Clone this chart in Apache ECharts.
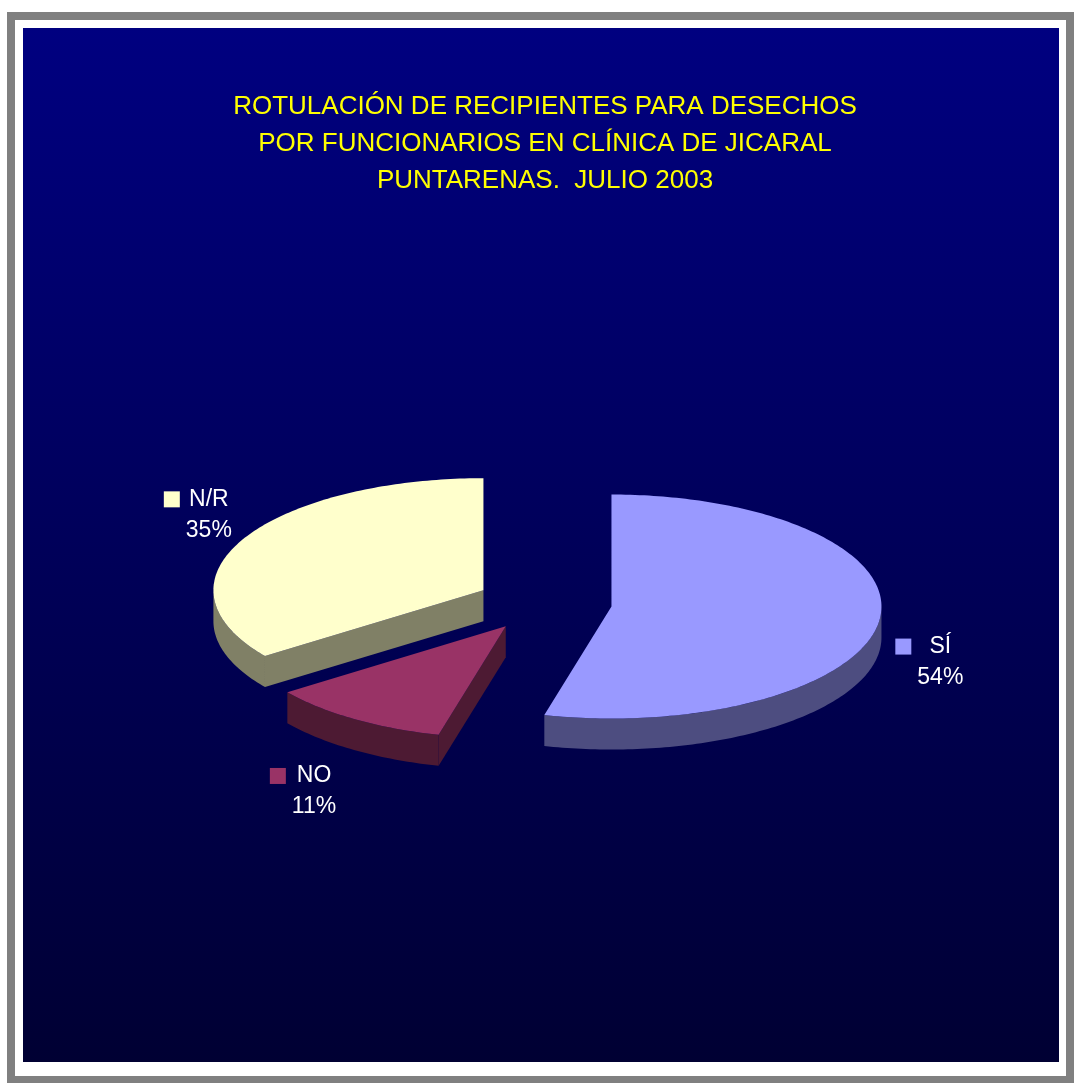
<!DOCTYPE html>
<html>
<head>
<meta charset="utf-8">
<script src="https://cdn.jsdelivr.net/npm/echarts@6/dist/echarts.min.js"></script>
<style>
  html, body { margin: 0; padding: 0; background: #ffffff; }
  #chart { width: 1076px; height: 1083px; }
</style>
</head>
<body>
<div id="chart"></div>
<script>
// Survey answers and their shares (%)
const categories = ['SÍ', 'NO', 'N/R'];
const shares = [54, 11, 35];
const sliceColors = ['#9999FF', '#993366', '#FFFFCC'];
const titleLines = [
  'ROTULACIÓN DE RECIPIENTES PARA DESECHOS',
  'POR FUNCIONARIOS EN CLÍNICA DE JICARAL',
  'PUNTARENAS.  JULIO 2003'
];

// Layout of the tilted, exploded pie
const PIE = { cx: 544, cy: 603, rx: 270, ry: 112, depth: 31, explode: 68 };
const FONT_FAMILY = '"Liberation Sans", Arial, sans-serif';
const TITLE_SIZE = 26;
const LABEL_SIZE = 23;
const LABEL_LINE = 31;
// label placement relative to the rim point at each slice's mid-angle
const labelShift = [[61, 33], [-40, 64], [-34, -33]];

const total = shares.reduce((a, b) => a + b, 0);
const before = shares.map((_, i) => shares.slice(0, i).reduce((a, b) => a + b, 0));

function rim(c, t) {
  return [c[0] + PIE.rx * Math.sin(t), c[1] - PIE.ry * Math.cos(t)];
}
function shade(hex, f) {
  const n = parseInt(hex.slice(1), 16);
  const r = Math.round(((n >> 16) & 255) * f);
  const g = Math.round(((n >> 8) & 255) * f);
  const b = Math.round((n & 255) * f);
  return 'rgb(' + r + ',' + g + ',' + b + ')';
}
function poly(points, fill, z2) {
  return { type: 'polygon', z2: z2, shape: { points: points }, style: { fill: fill, stroke: null } };
}

const measureCtx = document.createElement('canvas').getContext('2d');
measureCtx.font = LABEL_SIZE + 'px ' + FONT_FAMILY;

function renderSlice(params, api) {
  const i = params.dataIndex;
  const v = api.value(0);
  const a0 = before[i] / total * 2 * Math.PI;
  const a1 = a0 + v / total * 2 * Math.PI;
  const mid = (a0 + a1) / 2;
  const ratio = PIE.ry / PIE.rx;
  const c = [PIE.cx + PIE.explode * Math.sin(mid), PIE.cy - PIE.explode * ratio * Math.cos(mid)];
  const d = PIE.depth;
  const topColor = sliceColors[i];
  const sideColor = shade(topColor, 0.5);
  const z = Math.round(c[1]);
  const down = p => [p[0], p[1] + d];
  const arc = (s, e) => {
    const n = Math.max(2, Math.ceil((e - s) / (Math.PI / 180)));
    const pts = [];
    for (let k = 0; k <= n; k++) pts.push(rim(c, s + (e - s) * k / n));
    return pts;
  };
  const kids = [];

  // curved outer wall on the near half of the rim
  const w0 = Math.max(a0, Math.PI / 2);
  const w1 = Math.min(a1, 3 * Math.PI / 2);
  if (w1 > w0) {
    const pts = arc(w0, w1);
    kids.push(poly(pts.concat(pts.slice().reverse().map(down)), sideColor, z));
  }
  // flat cut faces that turn toward the viewer
  if (Math.cos(a0 - Math.PI / 2) < -1e-6) {
    const p = rim(c, a0);
    kids.push(poly([c, p, down(p), down(c)], sideColor, z));
  }
  if (Math.cos(a1 + Math.PI / 2) < -1e-6) {
    const p = rim(c, a1);
    kids.push(poly([c, p, down(p), down(c)], sideColor, z));
  }
  // top face
  kids.push(poly([c].concat(arc(a0, a1)), topColor, z + 0.5));

  // label: legend key + name, percentage below
  const anchor = rim(c, mid);
  const tx = anchor[0] + labelShift[i][0];
  const b1 = anchor[1] + labelShift[i][1];
  const lines = [categories[i], v + '%'];
  const maxW = Math.max.apply(null, lines.map(s => measureCtx.measureText(s).width));
  kids.push({
    type: 'rect', z2: 1000,
    shape: { x: tx - maxW / 2 - 6 - 16, y: b1 + 1 - 16, width: 16, height: 16 },
    style: { fill: topColor }
  });
  lines.forEach((s, k) => {
    kids.push({
      type: 'text', z2: 1000,
      style: {
        text: s, x: tx, y: b1 + k * LABEL_LINE - 0.3 * LABEL_SIZE,
        fill: '#ffffff', font: LABEL_SIZE + 'px ' + FONT_FAMILY,
        textAlign: 'center', textVerticalAlign: 'middle'
      }
    });
  });

  return { type: 'group', children: kids };
}

const chart = echarts.init(document.getElementById('chart'), null, { renderer: 'canvas' });

const frame = [
  { type: 'rect', z: -10, shape: { x: 7, y: 12, width: 1067, height: 1071 }, style: { fill: '#808080' } },
  { type: 'rect', z: -9, shape: { x: 15, y: 20, width: 1051, height: 1056 }, style: { fill: '#ffffff' } },
  {
    type: 'rect', z: -8, shape: { x: 23, y: 28, width: 1036, height: 1034 },
    style: {
      fill: new echarts.graphic.LinearGradient(0, 0, 0, 1, [
        { offset: 0, color: '#000080' },
        { offset: 1, color: '#000033' }
      ])
    }
  }
];
const titleTexts = titleLines.map((s, k) => ({
  type: 'text', z: 10,
  style: {
    text: s, x: 545, y: 115 + k * 37 - 0.3 * TITLE_SIZE,
    fill: '#FFFF00', font: TITLE_SIZE + 'px ' + FONT_FAMILY,
    textAlign: 'center', textVerticalAlign: 'middle'
  }
}));

chart.setOption({
  animation: false,
  graphic: { elements: frame.concat(titleTexts) },
  series: [{
    type: 'custom',
    coordinateSystem: 'none',
    silent: true,
    renderItem: renderSlice,
    data: shares.map((v, i) => ({ name: categories[i], value: [v] }))
  }]
});
</script>
</body>
</html>
